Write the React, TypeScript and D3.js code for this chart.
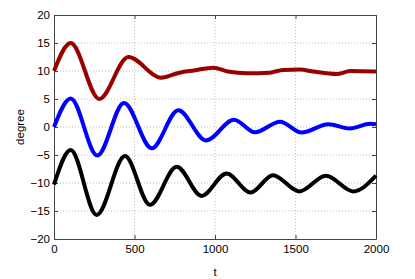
import * as d3 from "d3";
import {useEffect, useRef} from "react";

// time / value pairs
const redT = [0, 104, 281, 462, 665, 780, 870, 990, 1080, 1200, 1340, 1424, 1528, 1611, 1756, 1840, 2000];
const redV = [10, 15, 5, 12.5, 8.8, 9.7, 10.1, 10.6, 9.9, 9.6, 9.7, 10.2, 10.25, 9.9, 9.45, 10.0, 9.9];

const blueT = [0, 104, 269, 435, 607, 772, 944, 1118, 1248, 1404, 1538, 1704, 1838, 1963, 2000];
const blueV = [0, 5.1, -5.1, 4.3, -3.8, 3.0, -2.4, 1.3, -0.95, 0.95, -1.0, 0.5, -0.25, 0.6, 0.5];

const blackT = [0, 104, 265, 441, 596, 762, 917, 1072, 1221, 1360, 1524, 1689, 1859, 2000];
const blackV = [-10.3, -4.1, -15.7, -5.2, -13.9, -7.1, -12.3, -8.3, -11.7, -8.6, -11.5, -8.7, -11.5, -8.7];

const xTicks = [0, 500, 1000, 1500, 2000];
const yTicks = [-20, -15, -10, -5, 0, 5, 10, 15, 20];

const series = [
    {t: redT, v: redV, color: "#990000"},
    {t: blueT, v: blueV, color: "#0000ff"},
    {t: blackT, v: blackV, color: "#000000"},
];

const width = 415;
const height = 279;
const margin = {top: 15, right: 39, bottom: 40, left: 54};

const App = () => {
    const chartRef = useRef(null);

    useEffect(() => {
        const svg = d3.select(chartRef.current);
        svg.selectAll("*").remove();

        const boundsWidth = width - margin.left - margin.right;
        const boundsHeight = height - margin.top - margin.bottom;

        const scaleX = d3.scaleLinear().domain([0, 2000]).range([0, boundsWidth]);
        const scaleY = d3.scaleLinear().domain([-20, 20]).range([boundsHeight, 0]);

        const g = svg.append("g")
            .attr("transform", `translate(${margin.left}, ${margin.top})`);

        // dotted grid
        g.selectAll(".gx")
            .data(xTicks.slice(1, -1))
            .enter()
            .append("line")
            .attr("x1", d => scaleX(d)).attr("x2", d => scaleX(d))
            .attr("y1", 0).attr("y2", boundsHeight)
            .style("stroke", "#c0c0c0")
            .style("stroke-dasharray", "1,2");
        g.selectAll(".gy")
            .data(yTicks.slice(1, -1))
            .enter()
            .append("line")
            .attr("y1", d => scaleY(d)).attr("y2", d => scaleY(d))
            .attr("x1", 0).attr("x2", boundsWidth)
            .style("stroke", "#c0c0c0")
            .style("stroke-dasharray", "1,2");

        const fmt = (d) => String(d).replace("-", "\u2212");

        const xAxis = d3.axisBottom(scaleX).tickValues(xTicks).tickSizeInner(-4).tickSizeOuter(0).tickPadding(6).tickFormat(fmt);
        const yAxis = d3.axisLeft(scaleY).tickValues(yTicks).tickSizeInner(-4).tickSizeOuter(0).tickPadding(4).tickFormat(fmt);
        const xTop = d3.axisTop(scaleX).tickValues(xTicks).tickSizeInner(-4).tickSizeOuter(0).tickFormat(() => "");
        const yRight = d3.axisRight(scaleY).tickValues(yTicks).tickSizeInner(-4).tickSizeOuter(0).tickFormat(() => "");

        const styleAxis = (sel) => {
            sel.selectAll("path").style("stroke", "#444");
            sel.selectAll("line").style("stroke", "#444");
            sel.selectAll("text")
                .style("font-family", "'Liberation Sans', Arial, sans-serif")
                .style("font-size", "11.5px")
                .style("fill", "#000");
        };

        g.append("g").attr("transform", `translate(0, ${boundsHeight})`).call(xAxis).call(styleAxis);
        g.append("g").call(yAxis).call(styleAxis);
        g.append("g").call(xTop).call(styleAxis);
        g.append("g").attr("transform", `translate(${boundsWidth}, 0)`).call(yRight).call(styleAxis);

        const line = d3.line()
            .x(d => scaleX(d[0]))
            .y(d => scaleY(d[1]))
            .curve(d3.curveMonotoneX);

        series.forEach(s => {
            g.append("path")
                .datum(s.t.map((t, i) => [t, s.v[i]]))
                .attr("d", line)
                .style("fill", "none")
                .style("stroke", s.color)
                .style("stroke-width", 4)
                .style("stroke-linejoin", "round");
        });

        svg.append("text")
            .attr("x", margin.left + boundsWidth / 2)
            .attr("y", 276)
            .attr("text-anchor", "middle")
            .style("font-family", "'Liberation Sans', Arial, sans-serif")
            .style("font-size", "11.5px")
            .text("t");

        svg.append("text")
            .attr("transform", `translate(24, ${margin.top + boundsHeight / 2}) rotate(-90)`)
            .attr("text-anchor", "middle")
            .style("font-family", "'Liberation Sans', Arial, sans-serif")
            .style("font-size", "11.5px")
            .text("degree");
    }, []);

    return (
        <svg ref={chartRef} width={width} height={height}
             style={{position: "absolute", left: 0, top: 0, background: "#fff"}}></svg>
    );
};

export default App;
